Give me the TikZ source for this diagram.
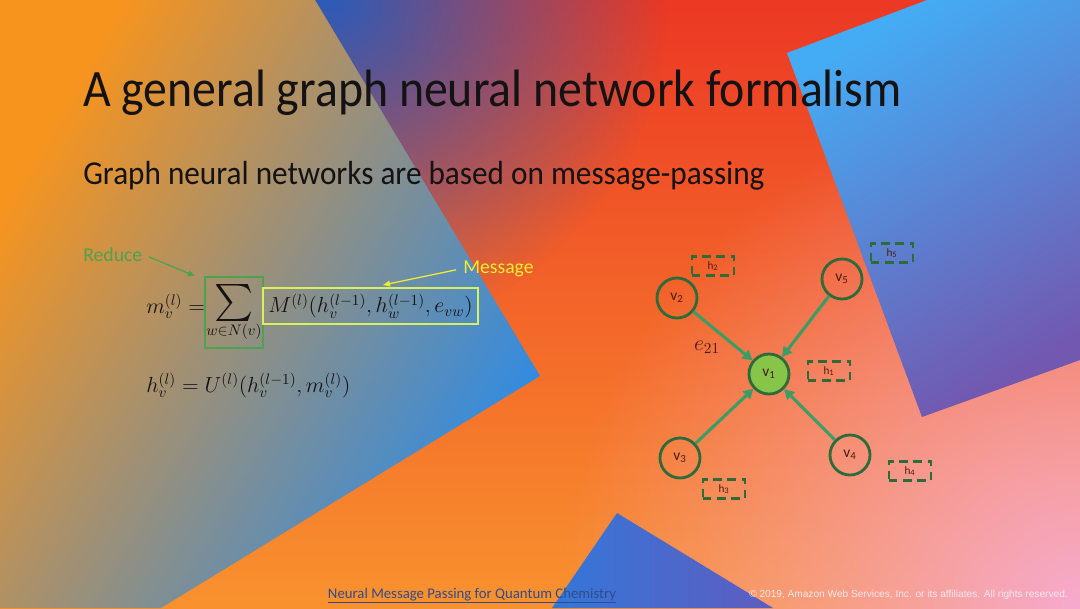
\RequirePackage{fix-cm}
\documentclass[tikz,border=0pt]{standalone}
\usepackage{graphicx}
\usepackage{fontspec}
\setmainfont{Carlito}
\newfontfamily\arialfont{Liberation Sans}
\usetikzlibrary{arrows.meta,fadings}

\definecolor{bgred}{RGB}{236,56,36}
\definecolor{bgorange}{RGB}{255,104,34}
\definecolor{bgamber}{RGB}{249,146,46}
\definecolor{bgpink}{RGB}{246,170,206}
\definecolor{bgblue}{RGB}{44,92,184}
\definecolor{leftorange}{RGB}{247,148,30}
\definecolor{leftgray}{RGB}{150,150,140}
\definecolor{leftblue}{RGB}{45,139,230}
\definecolor{skyblue}{RGB}{68,172,244}
\definecolor{skypurple}{RGB}{114,88,176}
\definecolor{lowblue}{RGB}{52,119,216}
\definecolor{lowpurple}{RGB}{95,92,192}
\definecolor{titleblack}{RGB}{20,18,18}
\definecolor{nodegreen}{RGB}{46,107,58}
\definecolor{fillgreen}{RGB}{134,197,74}
\definecolor{edgegreen}{RGB}{58,158,100}
\definecolor{labelred}{RGB}{74,28,18}
\definecolor{reducegreen}{RGB}{76,162,78}
\definecolor{msgyellow}{RGB}{240,236,48}
\definecolor{msgframe}{RGB}{214,240,96}
\definecolor{linkblue}{RGB}{47,76,140}
\definecolor{copywhite}{RGB}{246,232,236}

\tikzfading[name=glow, inner color=transparent!0, outer color=transparent!100]

\begin{document}
\begin{tikzpicture}[x=0.025cm, y=-0.025cm,
    vertex/.style={circle, draw=nodegreen, line width=2pt, minimum size=1cm, inner sep=0pt,
      font=\fontsize{11}{12}\selectfont, text=labelred},
    hbox/.style={draw=nodegreen, line width=2pt, dash pattern=on 6pt off 4pt,
      minimum width=1.05cm, minimum height=0.48cm, inner sep=0pt,
      font=\fontsize{8}{9}\selectfont, text=labelred},
    msgedge/.style={draw=edgegreen, line width=2.2pt, -{Triangle[length=7pt,width=7.5pt]}},
    mathfont/.style={font=\fontsize{15.5}{18}\selectfont, text=titleblack}]
  % Background
  \useasboundingbox (0,0) rectangle (1080,608);
  \clip (0,0) rectangle (1080,608);
  \shade[top color=bgred, middle color=bgorange, bottom color=bgamber] (0,0) rectangle (1080,608);
  \fill[bgpink, path fading=glow] (1080,608) circle (520);
  \fill[bgblue, path fading=glow] (330,0) circle (340);
  \shade[top color=leftorange, middle color=leftgray, bottom color=leftblue, shading angle=60]
    (0,0) -- (315,0) -- (540,376) -- (161,608) -- (0,608) -- cycle;
  \shade[top color=skyblue, bottom color=skypurple, shading angle=30]
    (787,53) -- (927,0) -- (1080,0) -- (1080,360) -- (922,417) -- cycle;
  \shade[left color=lowblue, right color=lowpurple]
    (617,513) -- (552,608) -- (773,608) -- cycle;

  % Title
  \node[anchor=base west, inner sep=0pt, text=titleblack, font=\fontsize{34}{40}\selectfont] (title)
    at (83,106) {\scalebox{1}[1.1]{A general graph neural network formalism}};
  \node[anchor=base west, inner sep=0pt, text=titleblack, font=\fontsize{22.2}{26}\selectfont] (subtitle)
    at (83,184) {\scalebox{1}[1.07]{Graph neural networks are based on message-passing}};

  % Formulas
  \node[mathfont, anchor=base west, inner sep=0pt] (mlhs) at (146,313) {$m_v^{(l)} =$};
  \node[mathfont, draw=reducegreen, line width=0.9pt, minimum width=1.45cm, minimum height=1.775cm,
    inner sep=0pt] (sumbox) at (234,312.5)
    {$\displaystyle\mathop{\vcenter{\hbox{\resizebox*{!}{0.925cm}{$\textstyle\sum$}}}}\limits_{w\in N(v)}$};
  \node[mathfont, draw=msgframe, line width=0.9pt, minimum width=5.375cm, minimum height=0.9cm,
    inner sep=0pt] (msgbox) at (370.5,306) {$M^{(l)}(h_v^{(l-1)},h_w^{(l-1)},e_{vw})$};
  \node[mathfont, anchor=base west, inner sep=0pt] (hupdate) at (146,392)
    {$h_v^{(l)} = U^{(l)}(h_v^{(l-1)},m_v^{(l)})$};

  % Labels
  \node[anchor=base west, inner sep=0pt, text=reducegreen, font=\fontsize{14}{16}\selectfont] (reduce)
    at (83,261) {Reduce};
  \node[anchor=base west, inner sep=0pt, text=msgyellow, font=\fontsize{14}{16}\selectfont] (message)
    at (463,273) {Message};
  \coordinate (redtip) at (195,276);
  \coordinate (msgtip) at (383,285);
  \draw[reducegreen, line width=0.9pt, shorten <=5pt, -{Triangle[length=5pt,width=4pt]}] (reduce.east) -- (redtip);
  \draw[msgyellow, line width=0.9pt, shorten <=5pt, -{Triangle[length=5pt,width=4pt]}] (message.west) -- (msgtip);

  % Graph
  \node[vertex, fill=fillgreen] (v1) at (769,374) {v\textsubscript{1}};
  \node[vertex] (v2) at (677,298) {v\textsubscript{2}};
  \node[vertex] (v3) at (680,458) {v\textsubscript{3}};
  \node[vertex] (v4) at (850,455) {v\textsubscript{4}};
  \node[vertex] (v5) at (842,279) {v\textsubscript{5}};
  \foreach \src in {v2,v3,v4,v5}
    \draw[msgedge] (\src) -- (v1);
  \node[mathfont, text=labelred, inner sep=0pt] (e21) at (707,347) {$e_{21}$};

  % Node states
  \node[hbox] (h1) at (829,371) {h\textsubscript{1}};
  \node[hbox] (h2) at (713,266) {h\textsubscript{2}};
  \node[hbox] (h3) at (724,489) {h\textsubscript{3}};
  \node[hbox] (h4) at (910,471) {h\textsubscript{4}};
  \node[hbox] (h5) at (892,253) {h\textsubscript{5}};

  % Footer
  \node[anchor=base, inner sep=0pt, text=linkblue, font=\fontsize{10.5}{12}\selectfont] (paper)
    at (472,598) {\underline{Neural Message Passing for Quantum Chemistry}};
  \node[anchor=base east, inner sep=0pt, text=copywhite, font=\arialfont\fontsize{7.2}{8}\selectfont] (copyright)
    at (1068,597) {© 2019, Amazon Web Services, Inc. or its affiliates. All rights reserved.};
\end{tikzpicture}
\end{document}
